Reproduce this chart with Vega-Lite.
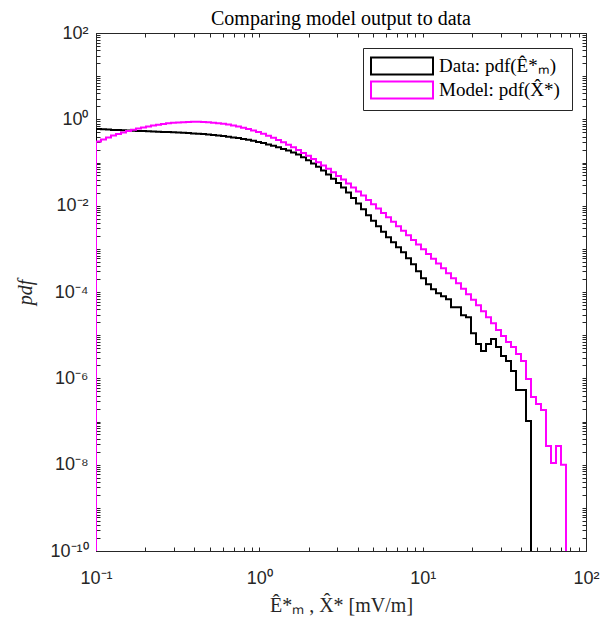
{
"$schema": "https://vega.github.io/schema/vega-lite/v6.json",
"width": 490, "height": 518,
"autosize": "none",
"padding": {"left": 96, "top": 33, "right": 17, "bottom": 74},
"background": "white",
"title": {"text": "Comparing model output to data", "font": "Liberation Serif", "fontSize": 20, "fontWeight": "normal", "color": "#000000", "offset": 8, "dy": 13, "anchor": "middle"},
"config": {"view": {"stroke": "#262626"}, "axis": {"labelOverlap": false, "labelFlush": false, "grid": false}},
"data": {"values": [
{"s":"Data","i":0,"x":0.1,"y":1e-10},
{"s":"Data","i":1,"x":0.1,"y":0.5966},
{"s":"Data","i":2,"x":0.10730,"y":0.5872},
{"s":"Data","i":3,"x":0.11514,"y":0.5778},
{"s":"Data","i":4,"x":0.12355,"y":0.5687},
{"s":"Data","i":5,"x":0.13257,"y":0.5627},
{"s":"Data","i":6,"x":0.14225,"y":0.5568},
{"s":"Data","i":7,"x":0.15264,"y":0.5508},
{"s":"Data","i":8,"x":0.16379,"y":0.5450},
{"s":"Data","i":9,"x":0.17575,"y":0.5393},
{"s":"Data","i":10,"x":0.18859,"y":0.5336},
{"s":"Data","i":11,"x":0.20236,"y":0.5279},
{"s":"Data","i":12,"x":0.21714,"y":0.5222},
{"s":"Data","i":13,"x":0.23300,"y":0.5168},
{"s":"Data","i":14,"x":0.25001,"y":0.5113},
{"s":"Data","i":15,"x":0.26827,"y":0.5058},
{"s":"Data","i":16,"x":0.28786,"y":0.5005},
{"s":"Data","i":17,"x":0.30888,"y":0.4954},
{"s":"Data","i":18,"x":0.33144,"y":0.4875},
{"s":"Data","i":19,"x":0.35565,"y":0.4797},
{"s":"Data","i":20,"x":0.38162,"y":0.4721},
{"s":"Data","i":21,"x":0.40949,"y":0.4646},
{"s":"Data","i":22,"x":0.43940,"y":0.4548},
{"s":"Data","i":23,"x":0.47149,"y":0.4452},
{"s":"Data","i":24,"x":0.50592,"y":0.4335},
{"s":"Data","i":25,"x":0.54287,"y":0.4221},
{"s":"Data","i":26,"x":0.58251,"y":0.4089},
{"s":"Data","i":27,"x":0.62506,"y":0.3960},
{"s":"Data","i":28,"x":0.67070,"y":0.3815},
{"s":"Data","i":29,"x":0.71969,"y":0.3675},
{"s":"Data","i":30,"x":0.77225,"y":0.3522},
{"s":"Data","i":31,"x":0.82864,"y":0.3357},
{"s":"Data","i":32,"x":0.88916,"y":0.3184},
{"s":"Data","i":33,"x":0.95410,"y":0.3003},
{"s":"Data","i":34,"x":1.02378,"y":0.2816},
{"s":"Data","i":35,"x":1.09854,"y":0.2628},
{"s":"Data","i":36,"x":1.17877,"y":0.2440},
{"s":"Data","i":37,"x":1.26486,"y":0.2252},
{"s":"Data","i":38,"x":1.35723,"y":0.2068},
{"s":"Data","i":39,"x":1.45635,"y":0.1889},
{"s":"Data","i":40,"x":1.56271,"y":0.1708},
{"s":"Data","i":41,"x":1.67684,"y":0.1535},
{"s":"Data","i":42,"x":1.79930,"y":0.1322},
{"s":"Data","i":43,"x":1.93070,"y":0.1127},
{"s":"Data","i":44,"x":2.07170,"y":0.09506},
{"s":"Data","i":45,"x":2.22300,"y":0.07974},
{"s":"Data","i":46,"x":2.38535,"y":0.06549},
{"s":"Data","i":47,"x":2.55955,"y":0.05293},
{"s":"Data","i":48,"x":2.74648,"y":0.04210},
{"s":"Data","i":49,"x":2.94706,"y":0.03367},
{"s":"Data","i":50,"x":3.16228,"y":0.02649},
{"s":"Data","i":51,"x":3.39323,"y":0.02030},
{"s":"Data","i":52,"x":3.64104,"y":0.01515},
{"s":"Data","i":53,"x":3.90694,"y":0.01130},
{"s":"Data","i":54,"x":4.19226,"y":0.008213},
{"s":"Data","i":55,"x":4.49843,"y":0.005966},
{"s":"Data","i":56,"x":4.82696,"y":0.004451},
{"s":"Data","i":57,"x":5.17948,"y":0.003322},
{"s":"Data","i":58,"x":5.55775,"y":0.002480},
{"s":"Data","i":59,"x":5.96363,"y":0.001850},
{"s":"Data","i":60,"x":6.39916,"y":0.001417},
{"s":"Data","i":61,"x":6.86651,"y":0.001086},
{"s":"Data","i":62,"x":7.36796,"y":0.0008322},
{"s":"Data","i":63,"x":7.90605,"y":0.0006046},
{"s":"Data","i":64,"x":8.48344,"y":0.0004394},
{"s":"Data","i":65,"x":9.10300,"y":0.0003027},
{"s":"Data","i":66,"x":9.76780,"y":0.0002085},
{"s":"Data","i":67,"x":10.48114,"y":0.0001515},
{"s":"Data","i":68,"x":11.24658,"y":0.0001160},
{"s":"Data","i":69,"x":12.06795,"y":9.383e-5},
{"s":"Data","i":70,"x":12.94928,"y":7.997e-5},
{"s":"Data","i":71,"x":13.89498,"y":6.816e-5},
{"s":"Data","i":72,"x":14.90972,"y":4.452e-5},
{"s":"Data","i":73,"x":15.99862,"y":4.452e-5},
{"s":"Data","i":74,"x":17.16700,"y":2.908e-5},
{"s":"Data","i":75,"x":18.42073,"y":2.614e-5},
{"s":"Data","i":76,"x":19.76601,"y":1.115e-5},
{"s":"Data","i":77,"x":21.20954,"y":6.210e-6},
{"s":"Data","i":78,"x":22.75851,"y":4.278e-6},
{"s":"Data","i":79,"x":24.42057,"y":6.210e-6},
{"s":"Data","i":80,"x":26.20406,"y":8.104e-6},
{"s":"Data","i":81,"x":28.11769,"y":5.293e-6},
{"s":"Data","i":82,"x":30.17123,"y":3.278e-6},
{"s":"Data","i":83,"x":32.37465,"y":2.512e-6},
{"s":"Data","i":84,"x":34.73896,"y":1.475e-6},
{"s":"Data","i":85,"x":37.27603,"y":5.364e-7},
{"s":"Data","i":86,"x":39.99826,"y":5.364e-7},
{"s":"Data","i":87,"x":42.91942,"y":1.030e-7},
{"s":"Data","i":88,"x":46.05389,"y":1e-10},
{"s":"Model","i":0,"x":0.1,"y":1e-10},
{"s":"Model","i":1,"x":0.1,"y":0.3066},
{"s":"Model","i":2,"x":0.10730,"y":0.3411},
{"s":"Model","i":3,"x":0.11514,"y":0.3795},
{"s":"Model","i":4,"x":0.12355,"y":0.4221},
{"s":"Model","i":5,"x":0.13257,"y":0.4572},
{"s":"Model","i":6,"x":0.14225,"y":0.4954},
{"s":"Model","i":7,"x":0.15264,"y":0.5364},
{"s":"Model","i":8,"x":0.16379,"y":0.5748},
{"s":"Model","i":9,"x":0.17575,"y":0.6129},
{"s":"Model","i":10,"x":0.18859,"y":0.6462},
{"s":"Model","i":11,"x":0.20236,"y":0.6816},
{"s":"Model","i":12,"x":0.21714,"y":0.7187},
{"s":"Model","i":13,"x":0.23300,"y":0.7500},
{"s":"Model","i":14,"x":0.25001,"y":0.7786},
{"s":"Model","i":15,"x":0.26827,"y":0.8081},
{"s":"Model","i":16,"x":0.28786,"y":0.8301},
{"s":"Model","i":17,"x":0.30888,"y":0.8478},
{"s":"Model","i":18,"x":0.33144,"y":0.8615},
{"s":"Model","i":19,"x":0.35565,"y":0.8707},
{"s":"Model","i":20,"x":0.38162,"y":0.8753},
{"s":"Model","i":21,"x":0.40949,"y":0.8753},
{"s":"Model","i":22,"x":0.43940,"y":0.8707},
{"s":"Model","i":23,"x":0.47149,"y":0.8568},
{"s":"Model","i":24,"x":0.50592,"y":0.8389},
{"s":"Model","i":25,"x":0.54287,"y":0.8166},
{"s":"Model","i":26,"x":0.58251,"y":0.7870},
{"s":"Model","i":27,"x":0.62506,"y":0.7542},
{"s":"Model","i":28,"x":0.67070,"y":0.7187},
{"s":"Model","i":29,"x":0.71969,"y":0.6816},
{"s":"Model","i":30,"x":0.77225,"y":0.6394},
{"s":"Model","i":31,"x":0.82864,"y":0.5966},
{"s":"Model","i":32,"x":0.88916,"y":0.5508},
{"s":"Model","i":33,"x":0.95410,"y":0.5058},
{"s":"Model","i":34,"x":1.02378,"y":0.4620},
{"s":"Model","i":35,"x":1.09854,"y":0.4177},
{"s":"Model","i":36,"x":1.17877,"y":0.3755},
{"s":"Model","i":37,"x":1.26486,"y":0.3340},
{"s":"Model","i":38,"x":1.35723,"y":0.2955},
{"s":"Model","i":39,"x":1.45635,"y":0.2587},
{"s":"Model","i":40,"x":1.56271,"y":0.2252},
{"s":"Model","i":41,"x":1.67684,"y":0.1951},
{"s":"Model","i":42,"x":1.79930,"y":0.1671},
{"s":"Model","i":43,"x":1.93070,"y":0.1425},
{"s":"Model","i":44,"x":2.07170,"y":0.1208},
{"s":"Model","i":45,"x":2.22300,"y":0.1019},
{"s":"Model","i":46,"x":2.38535,"y":0.08547},
{"s":"Model","i":47,"x":2.55955,"y":0.07132},
{"s":"Model","i":48,"x":2.74648,"y":0.05920},
{"s":"Model","i":49,"x":2.94706,"y":0.04887},
{"s":"Model","i":50,"x":3.16228,"y":0.04013},
{"s":"Model","i":51,"x":3.39323,"y":0.03278},
{"s":"Model","i":52,"x":3.64104,"y":0.02649},
{"s":"Model","i":53,"x":3.90694,"y":0.02141},
{"s":"Model","i":54,"x":4.19226,"y":0.01712},
{"s":"Model","i":55,"x":4.49843,"y":0.01362},
{"s":"Model","i":56,"x":4.82696,"y":0.01083},
{"s":"Model","i":57,"x":5.17948,"y":0.008568},
{"s":"Model","i":58,"x":5.55775,"y":0.006780},
{"s":"Model","i":59,"x":5.96363,"y":0.005364},
{"s":"Model","i":60,"x":6.39916,"y":0.004243},
{"s":"Model","i":61,"x":6.86651,"y":0.003340},
{"s":"Model","i":62,"x":7.36796,"y":0.002628},
{"s":"Model","i":63,"x":7.90605,"y":0.002057},
{"s":"Model","i":64,"x":8.48344,"y":0.001610},
{"s":"Model","i":65,"x":9.10300,"y":0.001261},
{"s":"Model","i":66,"x":9.76780,"y":0.0009815},
{"s":"Model","i":67,"x":10.48114,"y":0.0007642},
{"s":"Model","i":68,"x":11.24658,"y":0.0005918},
{"s":"Model","i":69,"x":12.06795,"y":0.0004585},
{"s":"Model","i":70,"x":12.94928,"y":0.0003550},
{"s":"Model","i":71,"x":13.89498,"y":0.0002721},
{"s":"Model","i":72,"x":14.90972,"y":0.0002085},
{"s":"Model","i":73,"x":15.99862,"y":0.0001598},
{"s":"Model","i":74,"x":17.16700,"y":0.0001192},
{"s":"Model","i":75,"x":18.42073,"y":8.893e-5},
{"s":"Model","i":76,"x":19.76601,"y":6.637e-5},
{"s":"Model","i":77,"x":21.20954,"y":4.954e-5},
{"s":"Model","i":78,"x":22.75851,"y":3.598e-5},
{"s":"Model","i":79,"x":24.42057,"y":2.614e-5},
{"s":"Model","i":80,"x":26.20406,"y":1.899e-5},
{"s":"Model","i":81,"x":28.11769,"y":1.309e-5},
{"s":"Model","i":82,"x":30.17123,"y":9.506e-6},
{"s":"Model","i":83,"x":32.37465,"y":6.907e-6},
{"s":"Model","i":84,"x":34.73896,"y":5.293e-6},
{"s":"Model","i":85,"x":37.27603,"y":3.646e-6},
{"s":"Model","i":86,"x":39.99826,"y":2.512e-6},
{"s":"Model","i":87,"x":42.91942,"y":9.634e-7},
{"s":"Model","i":88,"x":46.05389,"y":3.695e-7},
{"s":"Model","i":89,"x":49.41723,"y":2.546e-7},
{"s":"Model","i":90,"x":53.02620,"y":1.850e-7},
{"s":"Model","i":91,"x":56.89879,"y":2.721e-8},
{"s":"Model","i":92,"x":61.05418,"y":1.100e-8},
{"s":"Model","i":93,"x":65.51306,"y":2.721e-8},
{"s":"Model","i":94,"x":70.29749,"y":9.899e-9},
{"s":"Model","i":95,"x":75.43138,"y":1e-10}
]},
"layer": [
{"mark": {"type": "line", "interpolate": "step-after", "strokeWidth": 2, "clip": true},
 "encoding": {
  "x": {"field": "x", "type": "quantitative", "scale": {"type": "log", "domain": [0.1, 100], "nice": false},
    "axis": {"orient": "bottom", "values": [0.1,0.2,0.3,0.4,0.5,0.6,0.7,0.8,0.9,1,2,3,4,5,6,7,8,9,10,20,30,40,50,60,70,80,90,100],
      "labelExpr": "datum.value == 0.1 ? '10⁻¹' : datum.value == 1 ? '10⁰' : datum.value == 10 ? '10¹' : datum.value == 100 ? '10²' : ''",
      "tickSize": -4,
      "tickColor": "#262626", "domainColor": "#262626", "labelFont": "Liberation Sans", "labelFontSize": 18, "labelColor": "#262626", "labelPadding": 22,
      "title": "Ê*ₘ ,  X̂* [mV/m]", "titleFont": "Liberation Serif", "titleFontSize": 20, "titleFontWeight": "normal", "titleColor": "#262626",
      "titleX": 245, "titleY": 54, "titleBaseline": "middle", "titleAlign": "center"}},
  "y": {"field": "y", "type": "quantitative", "scale": {"type": "log", "domain": [1e-10, 100], "nice": false},
    "axis": {"orient": "left", "values": [1e-10,2e-10,3e-10,4e-10,5e-10,6e-10,7e-10,8e-10,9e-10,1e-9,2e-9,3e-9,4e-9,5e-9,6e-9,7e-9,8e-9,9e-9,1e-8,2e-8,3e-8,4e-8,5e-8,6e-8,7e-8,8e-8,9e-8,1e-7,2e-7,3e-7,4e-7,5e-7,6e-7,7e-7,8e-7,9e-7,1e-6,2e-6,3e-6,4e-6,5e-6,6e-6,7e-6,8e-6,9e-6,1e-5,2e-5,3e-5,4e-5,5e-5,6e-5,7e-5,8e-5,9e-5,1e-4,2e-4,3e-4,4e-4,5e-4,6e-4,7e-4,8e-4,9e-4,1e-3,2e-3,3e-3,4e-3,5e-3,6e-3,7e-3,8e-3,9e-3,1e-2,2e-2,3e-2,4e-2,5e-2,6e-2,7e-2,8e-2,9e-2,0.1,0.2,0.3,0.4,0.5,0.6,0.7,0.8,0.9,1,2,3,4,5,6,7,8,9,10,20,30,40,50,60,70,80,90,100],
      "labelExpr": "datum.value == 1e-10 ? '10⁻¹⁰' : datum.value == 1e-8 ? '10⁻⁸' : datum.value == 1e-6 ? '10⁻⁶' : datum.value == 1e-4 ? '10⁻⁴' : datum.value == 0.01 ? '10⁻²' : datum.value == 1 ? '10⁰' : datum.value == 100 ? '10²' : ''",
      "tickSize": -4,
      "tickColor": "#262626", "domainColor": "#262626", "labelFont": "Liberation Sans", "labelFontSize": 18, "labelColor": "#262626", "labelPadding": 12,
      "title": "pdf", "titleFont": "Liberation Serif", "titleFontSize": 20, "titleFontStyle": "italic", "titleFontWeight": "normal", "titleColor": "#262626",
      "titleX": -71, "titleY": 259, "titleBaseline": "middle", "titleAlign": "center", "titleAngle": -90}},
  "color": {"field": "s", "type": "nominal", "scale": {"domain": ["Data", "Model"], "range": ["#000000", "#ff00ff"]},
    "legend": {"orient": "none", "legendX": 267, "legendY": 15, "title": null, "direction": "vertical",
      "fillColor": "white", "strokeColor": "#262626", "padding": 7, "rowPadding": -5,
      "symbolType": "M-3.1,-0.85H3.1V0.85H-3.1Z", "symbolSize": 400, "symbolStrokeWidth": 2, "symbolOffset": 21,
      "labelFont": "Liberation Serif", "labelFontSize": 19, "labelColor": "#000000", "labelOffset": 26, "labelLimit": 400,
      "labelExpr": "datum.label == 'Data' ? 'Data:  pdf(Ê*ₘ)' : 'Model:  pdf(X̂*)'"}},
  "order": {"field": "i", "type": "quantitative"}
 }},
{"mark": {"type": "line", "strokeOpacity": 0},
 "encoding": {
  "x": {"field": "x", "type": "quantitative", "scale": {"type": "log", "domain": [0.1, 100], "nice": false},
    "axis": {"orient": "top", "values": [0.1,0.2,0.3,0.4,0.5,0.6,0.7,0.8,0.9,1,2,3,4,5,6,7,8,9,10,20,30,40,50,60,70,80,90,100], "labels": false, "title": null,
      "tickSize": -4, "tickColor": "#262626", "domainColor": "#262626"}},
  "y": {"field": "y", "type": "quantitative", "scale": {"type": "log", "domain": [1e-10, 100], "nice": false},
    "axis": {"orient": "right", "values": [1e-10,2e-10,3e-10,4e-10,5e-10,6e-10,7e-10,8e-10,9e-10,1e-9,2e-9,3e-9,4e-9,5e-9,6e-9,7e-9,8e-9,9e-9,1e-8,2e-8,3e-8,4e-8,5e-8,6e-8,7e-8,8e-8,9e-8,1e-7,2e-7,3e-7,4e-7,5e-7,6e-7,7e-7,8e-7,9e-7,1e-6,2e-6,3e-6,4e-6,5e-6,6e-6,7e-6,8e-6,9e-6,1e-5,2e-5,3e-5,4e-5,5e-5,6e-5,7e-5,8e-5,9e-5,1e-4,2e-4,3e-4,4e-4,5e-4,6e-4,7e-4,8e-4,9e-4,1e-3,2e-3,3e-3,4e-3,5e-3,6e-3,7e-3,8e-3,9e-3,1e-2,2e-2,3e-2,4e-2,5e-2,6e-2,7e-2,8e-2,9e-2,0.1,0.2,0.3,0.4,0.5,0.6,0.7,0.8,0.9,1,2,3,4,5,6,7,8,9,10,20,30,40,50,60,70,80,90,100], "labels": false, "title": null,
      "tickSize": -4, "tickColor": "#262626", "domainColor": "#262626"}}
 }}
],
"resolve": {"axis": {"x": "independent", "y": "independent"}}
}
